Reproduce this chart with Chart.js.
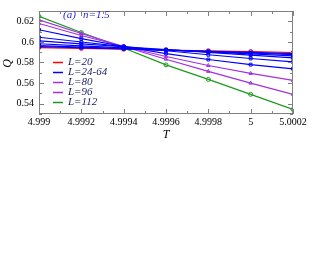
<!DOCTYPE html>
<html>
<head>
<meta charset="utf-8">
<script src="https://cdn.jsdelivr.net/npm/chart.js@4.4.1/dist/chart.umd.min.js"></script>
<style>
	html, body { margin: 0; padding: 0; background: #fff; }
</style>
</head>
<body>
<canvas id="chart" width="330" height="255"></canvas>
<script>

//
// data
//

const temps = [4.999, 4.9992, 4.9994, 4.9996, 4.9998, 5.0, 5.0002];

const q20  = [0.5945, 0.5937, 0.5929, 0.5921, 0.5914, 0.5906, 0.5897];
const q24  = [0.5955, 0.5943, 0.5932, 0.5920, 0.5909, 0.5898, 0.5886];
const q32  = [0.5964, 0.5949, 0.5935, 0.5920, 0.5906, 0.5892, 0.5877];
const q40  = [0.5982, 0.5962, 0.5942, 0.5923, 0.5903, 0.5883, 0.5864];
const q48  = [0.6009, 0.5981, 0.5953, 0.5926, 0.5899, 0.5872, 0.5845];
const q56  = [0.6045, 0.5999, 0.5955, 0.5914, 0.5875, 0.5839, 0.5806];
const q64  = [0.6118, 0.6032, 0.5955, 0.5887, 0.5829, 0.5779, 0.5739];
const q80  = [0.6179, 0.6062, 0.5955, 0.5858, 0.5771, 0.5694, 0.5627];
const q96  = [0.6214, 0.6082, 0.5955, 0.5832, 0.5714, 0.5600, 0.5491];
const q112 = [0.6248, 0.6091, 0.5941, 0.5777, 0.5636, 0.5491, 0.5345];

const xTicks = [4.999, 4.9992, 4.9994, 4.9996, 4.9998, 5.0, 5.0002];
const xTickLabels = ['4.999', '4.9992', '4.9994', '4.9996', '4.9998', '5', '5.0002'];
const yTicks = [0.54, 0.56, 0.58, 0.60, 0.62];
const yTickLabels = ['0.54', '0.56', '0.58', '0.6', '0.62'];

const legendLabels = ['L=20', 'L=24-64', 'L=80', 'L=96', 'L=112'];

//
// styles
//

const RED = '#ff0000';
const BLUE = '#0000ff';
const VIOLET = '#a030e0';
const GREEN = '#1a9a1a';
const legendColors = [RED, BLUE, VIOLET, VIOLET, GREEN];
const SERIF = '"Liberation Serif", "DejaVu Serif", serif';

function series(values, color, style) {
	return {
		data: temps.map((t, i) => ({x: t, y: values[i]})),
		borderColor: color,
		backgroundColor: 'rgba(255,255,255,0)',
		borderWidth: 1.2,
		pointStyle: style,
		pointRadius: 2,
		pointBorderWidth: 1,
		pointBorderColor: color,
		tension: 0
	};
}

// draws the box, inward ticks, y title, panel label and legend
//
const decorations = {
	id: 'decorations',
	afterDatasetsDraw: function(chart) {
		const ctx = chart.ctx;
		const a = chart.chartArea;
		const x = chart.scales.x;
		const y = chart.scales.y;

		ctx.save();
		ctx.strokeStyle = '#808080';
		ctx.lineWidth = 1;
		ctx.strokeRect(a.left + 0.5, a.top + 0.5, a.right - a.left - 1, a.bottom - a.top - 1);

		ctx.beginPath();
		for (let i = 0; i <= 12; i++) {
			let v = 4.999 + i * 0.0001;
			let px = Math.round(x.getPixelForValue(v)) + 0.5;
			let len = (i % 2 == 0) ? 5 : 3;
			ctx.moveTo(px, a.bottom);
			ctx.lineTo(px, a.bottom - len);
			ctx.moveTo(px, a.top);
			ctx.lineTo(px, a.top + len);
		}
		for (let i = 0; i <= 10; i++) {
			let v = 0.53 + i * 0.01;
			let py = Math.round(y.getPixelForValue(v)) + 0.5;
			let len = (i % 2 == 1) ? 5 : 3;
			ctx.moveTo(a.left, py);
			ctx.lineTo(a.left + len, py);
			ctx.moveTo(a.right, py);
			ctx.lineTo(a.right - len, py);
		}
		ctx.stroke();

		// y axis title
		//
		ctx.save();
		ctx.fillStyle = '#000';
		ctx.font = 'italic 12px ' + SERIF;
		ctx.textAlign = 'center';
		ctx.textBaseline = 'middle';
		ctx.translate(8, (a.top + a.bottom) / 2 + 1);
		ctx.rotate(-Math.PI / 2);
		ctx.fillText('Q', 0, 0);
		ctx.restore();

		// panel label
		//
		ctx.fillStyle = '#2828d8';
		ctx.font = 'italic 11px ' + SERIF;
		ctx.textBaseline = 'middle';
		ctx.fillText('(a)', 63, 15);
		ctx.fillText('n=1.5', 83, 15);

		// legend
		//
		for (let i = 0; i < legendLabels.length; i++) {
			let ly = 62 + i * 10;
			ctx.strokeStyle = legendColors[i];
			ctx.lineWidth = 1.5;
			ctx.beginPath();
			ctx.moveTo(53, ly + 0.5);
			ctx.lineTo(63, ly + 0.5);
			ctx.stroke();
			ctx.fillStyle = '#1c1c66';
			ctx.fillText(legendLabels[i], 68, ly);
		}
		ctx.restore();
	}
};

const ctx = document.getElementById('chart').getContext('2d');
new Chart(ctx, {
	type: 'line',
	data: {
		datasets: [
			series(q24, BLUE, 'rect'),
			series(q32, BLUE, 'rect'),
			series(q40, BLUE, 'rect'),
			series(q48, BLUE, 'rect'),
			series(q56, BLUE, 'rect'),
			series(q64, BLUE, 'rect'),
			series(q80, VIOLET, 'triangle'),
			series(q96, VIOLET, 'triangle'),
			series(q112, GREEN, 'circle'),
			series(q20, RED, 'circle')
		]
	},
	options: {
		responsive: false,
		animation: false,
		layout: {
			padding: {left: 0, top: 4, right: 37, bottom: 113}
		},
		plugins: {
			legend: {display: false},
			tooltip: {enabled: false}
		},
		scales: {
			x: {
				type: 'linear',
				min: 4.999,
				max: 5.0002,
				grid: {display: false, drawTicks: false},
				border: {display: false},
				afterBuildTicks: function(scale) {
					scale.ticks = xTicks.map(v => ({value: v}));
				},
				afterFit: function(scale) {
					scale.height = 28;
				},
				ticks: {
					autoSkip: false,
					maxRotation: 0,
					padding: 2,
					color: '#000',
					font: {family: SERIF, size: 10},
					callback: function(value, index) {
						return xTickLabels[index];
					}
				},
				title: {
					display: true,
					text: 'T',
					color: '#000',
					padding: {top: 0, bottom: 0},
					font: {family: SERIF, size: 12, style: 'italic'}
				}
			},
			y: {
				min: 0.53,
				max: 0.63,
				grid: {display: false, drawTicks: false},
				border: {display: false},
				afterBuildTicks: function(scale) {
					scale.ticks = yTicks.map(v => ({value: v}));
				},
				afterFit: function(scale) {
					scale.width = 39;
				},
				ticks: {
					padding: 5,
					color: '#000',
					font: {family: SERIF, size: 10},
					callback: function(value, index) {
						return yTickLabels[index];
					}
				}
			}
		}
	},
	plugins: [decorations]
});
</script>
</body>
</html>
